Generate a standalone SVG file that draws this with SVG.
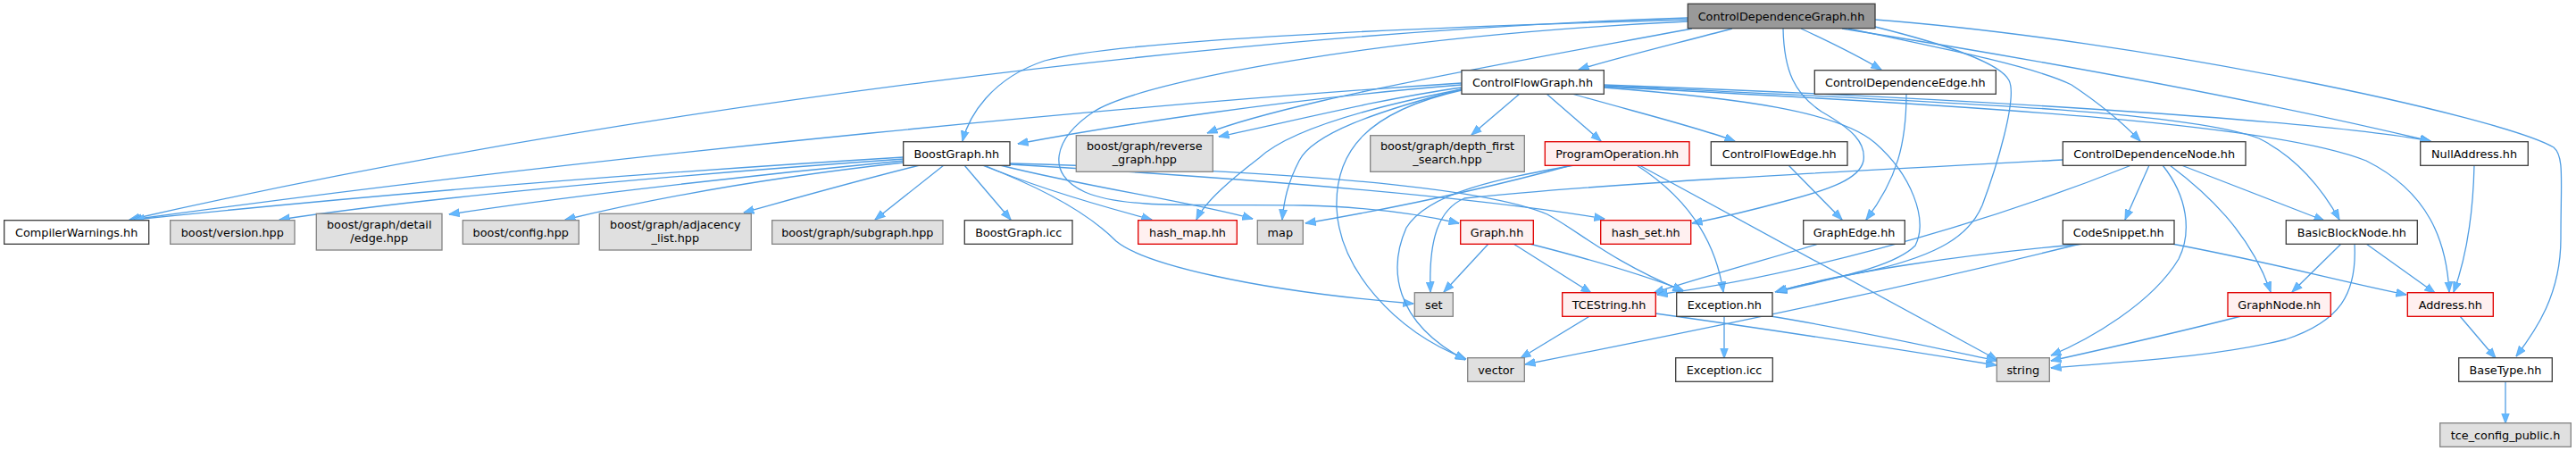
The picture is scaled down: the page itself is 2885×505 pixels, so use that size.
<svg xmlns="http://www.w3.org/2000/svg" width="2885" height="505" viewBox="0 0 2885 505">
<style>
.n rect{fill:#ffffff;stroke:#404040;stroke-width:1.33}
.g rect{fill:#e0e0e0;stroke:#858585;stroke-width:1.33}
.r rect{fill:#fff0f0;stroke:#e00000;stroke-width:1.33}
.root rect{fill:#999999;stroke:#404040;stroke-width:1.33}
text{font-family:"DejaVu Sans","Liberation Sans",sans-serif;font-size:12.8px;fill:#000000;text-anchor:middle}
#edges path{fill:none;stroke:#4f9de3;stroke-width:1.3;marker-end:url(#ah)}
</style>
<defs>
<marker id="ah" viewBox="0 0 12 10" refX="11.5" refY="5" markerWidth="12" markerHeight="10" markerUnits="userSpaceOnUse" orient="auto">
<path d="M0,0.5 L12,5 L0,9.5 z" fill="#63b8ff" stroke="#4f9de3" stroke-width="0.6"/>
</marker>
</defs>
<rect width="2885" height="505" fill="#ffffff"/>
<g id="edges">
<path d="M1890,20 C1400,35 700,120 145,246"/>
<path d="M1890,22 C1600,30 1250,45 1170,68 C1110,88 1085,130 1078,158"/>
<path d="M1890,24 C1550,40 1280,90 1225,125 C1180,155 1170,195 1215,215 C1260,235 1350,228 1460,230 C1540,232 1600,242 1634,250"/>
<path d="M1895,32 C1800,50 1600,85 1480,113 C1420,127 1380,138 1352,149"/>
<path d="M1940,32 C1880,48 1810,65 1768,78"/>
<path d="M2017,32 C2045,45 2080,62 2107,78"/>
<path d="M2070,32 C2180,55 2280,75 2320,95 C2350,115 2375,135 2397,158"/>
<path d="M1997,32 C1998,80 2010,105 2040,125 C2075,145 2090,160 2087,180 C2083,200 2050,212 2000,225 C1960,236 1925,244 1895,250"/>
<path d="M2100,30 C2180,50 2240,70 2250,90 C2260,110 2235,190 2220,230 C2205,265 2170,285 2100,302 C2050,312 2015,319 1988,327"/>
<path d="M2063,32 C2250,62 2500,105 2722,158"/>
<path d="M2100,22 C2400,45 2800,130 2860,165 C2872,175 2868,200 2868,267 C2868,330 2840,370 2818,399"/>
<path d="M1637,93 C1300,115 700,170 147,246"/>
<path d="M1637,95 C1450,110 1250,140 1140,161"/>
<path d="M1637,98 C1550,110 1450,135 1365,153"/>
<path d="M1637,100 C1560,115 1450,140 1410,177 C1380,200 1350,225 1340,246"/>
<path d="M1637,100 C1540,125 1470,150 1455,180 C1442,205 1438,225 1436,246"/>
<path d="M1637,101 C1530,125 1495,170 1497,233 C1500,300 1560,370 1642,402"/>
<path d="M1702,105 L1648,151"/>
<path d="M1732,105 L1793,158"/>
<path d="M1757,104 C1830,125 1900,142 1943,158"/>
<path d="M1796,98 C1950,110 2060,125 2100,160 C2140,195 2160,245 2145,275 C2120,300 2050,312 1990,327"/>
<path d="M1796,95 C2200,110 2600,135 2722,158"/>
<path d="M1796,96 C2200,115 2450,125 2530,155 C2570,175 2600,210 2620,246"/>
<path d="M1796,97 C2250,120 2550,140 2650,180 C2720,215 2740,270 2743,327"/>
<path d="M1012,176 C700,195 400,220 150,246"/>
<path d="M1012,178 C700,200 450,225 313,246"/>
<path d="M1012,180 C800,200 600,225 503,240"/>
<path d="M1012,182 C850,200 720,225 633,246"/>
<path d="M1030,185 C950,205 880,225 833,238"/>
<path d="M1057,185 L980,246"/>
<path d="M1080,185 L1132,246"/>
<path d="M1102,185 C1160,210 1230,230 1290,246"/>
<path d="M1120,185 C1220,210 1330,225 1403,245"/>
<path d="M1100,185 C1180,215 1225,245 1250,270 C1280,295 1400,325 1583,340"/>
<path d="M1131,183 C1400,190 1650,205 1733,240 C1770,260 1800,290 1885,326"/>
<path d="M1131,184 C1400,200 1650,220 1797,245"/>
<path d="M1760,185 C1650,215 1550,235 1462,250"/>
<path d="M1763,185 C1680,200 1600,215 1575,255 C1555,300 1560,360 1641,403"/>
<path d="M1833,185 C1880,215 1920,260 1930,327"/>
<path d="M1836,185 L2237,403"/>
<path d="M2135,105 C2135,160 2125,200 2090,246"/>
<path d="M2003,185 L2063,246"/>
<path d="M2037,273 C1980,290 1900,312 1852,328"/>
<path d="M2310,179 C2100,190 1800,205 1640,222 C1610,235 1600,270 1602,327"/>
<path d="M2387,185 C2200,260 2000,310 1856,330"/>
<path d="M2407,185 L2380,246"/>
<path d="M2430,185 C2470,215 2520,260 2543,327"/>
<path d="M2443,185 L2603,247"/>
<path d="M2422,185 C2450,220 2455,260 2440,290 C2410,340 2340,380 2297,398"/>
<path d="M2330,273 C2100,330 1900,370 1708,408"/>
<path d="M2335,273 C2200,285 2060,305 1990,327"/>
<path d="M2427,272 C2550,295 2620,315 2695,330"/>
<path d="M1667,273 L1617,327"/>
<path d="M1695,273 L1782,328"/>
<path d="M1713,273 C1780,290 1840,308 1885,325"/>
<path d="M1782,353 L1703,401"/>
<path d="M1854,351 C1990,370 2150,395 2236,409"/>
<path d="M1931,354 L1931,401"/>
<path d="M1983,354 C2080,370 2170,390 2236,404"/>
<path d="M2622,273 L2567,327"/>
<path d="M2650,273 L2727,328"/>
<path d="M2637,273 C2640,330 2620,360 2560,380 C2480,400 2380,405 2297,412"/>
<path d="M2771,185 C2770,230 2765,280 2748,327"/>
<path d="M2755,354 L2795,401"/>
<path d="M2806,427 L2806,474"/>
<path d="M2510,354 C2440,372 2360,390 2297,404"/>
</g>
<g id="n_cdg" class="root"><rect x="1890.3" y="4.3" width="209.7" height="27.4"/><text x="1995" y="22.5">ControlDependenceGraph.hh</text></g>
<g id="n_cfg" class="n"><rect x="1637" y="78.7" width="159.3" height="26.6"/><text x="1716.6" y="96.5">ControlFlowGraph.hh</text></g>
<g id="n_cde" class="n"><rect x="2032.3" y="78.7" width="203" height="26.6"/><text x="2133.8" y="96.5">ControlDependenceEdge.hh</text></g>
<g id="n_bg" class="n"><rect x="1011.7" y="158.7" width="119.3" height="26.6"/><text x="1071.3" y="176.5">BoostGraph.hh</text></g>
<g id="n_rg" class="g"><rect x="1205.3" y="151.7" width="153" height="40.6"/><text x="1281.8" y="168">boost/graph/reverse</text><text x="1281.8" y="183">_graph.hpp</text></g>
<g id="n_dfs" class="g"><rect x="1534.7" y="151.7" width="172.6" height="40.6"/><text x="1621" y="168">boost/graph/depth_first</text><text x="1621" y="183">_search.hpp</text></g>
<g id="n_po" class="r"><rect x="1730.3" y="158.7" width="161.7" height="26.6"/><text x="1811.2" y="176.5">ProgramOperation.hh</text></g>
<g id="n_cfe" class="n"><rect x="1916.3" y="158.7" width="152.7" height="26.6"/><text x="1992.7" y="176.5">ControlFlowEdge.hh</text></g>
<g id="n_cdn" class="n"><rect x="2310.3" y="158.7" width="204.7" height="26.6"/><text x="2412.7" y="176.5">ControlDependenceNode.hh</text></g>
<g id="n_na" class="n"><rect x="2710.7" y="158.7" width="120.6" height="26.6"/><text x="2771" y="176.5">NullAddress.hh</text></g>
<g id="n_cw" class="n"><rect x="4.7" y="246.7" width="162" height="26.6"/><text x="85.7" y="264.5">CompilerWarnings.hh</text></g>
<g id="n_bv" class="g"><rect x="190.7" y="246.7" width="139.3" height="26.6"/><text x="260.3" y="264.5">boost/version.hpp</text></g>
<g id="n_de" class="g"><rect x="354.3" y="239.3" width="140.7" height="40.7"/><text x="424.7" y="255.5">boost/graph/detail</text><text x="424.7" y="270.5">/edge.hpp</text></g>
<g id="n_bc" class="g"><rect x="518.3" y="246.7" width="130" height="26.6"/><text x="583.3" y="264.5">boost/config.hpp</text></g>
<g id="n_al" class="g"><rect x="671.3" y="239.3" width="170" height="40.7"/><text x="756.3" y="255.5">boost/graph/adjacency</text><text x="756.3" y="270.5">_list.hpp</text></g>
<g id="n_sg" class="g"><rect x="864.7" y="246.7" width="191.3" height="26.6"/><text x="960.3" y="264.5">boost/graph/subgraph.hpp</text></g>
<g id="n_bgi" class="n"><rect x="1080.3" y="246.7" width="120.7" height="26.6"/><text x="1140.7" y="264.5">BoostGraph.icc</text></g>
<g id="n_hm" class="r"><rect x="1274.7" y="246.7" width="110.6" height="26.6"/><text x="1330" y="264.5">hash_map.hh</text></g>
<g id="n_map" class="g"><rect x="1408.3" y="246.7" width="51" height="26.6"/><text x="1433.8" y="264.5">map</text></g>
<g id="n_graph" class="r"><rect x="1635.7" y="246.7" width="81.6" height="26.6"/><text x="1676.5" y="264.5">Graph.hh</text></g>
<g id="n_hs" class="r"><rect x="1792.7" y="246.7" width="101" height="26.6"/><text x="1843.2" y="264.5">hash_set.hh</text></g>
<g id="n_ge" class="n"><rect x="2019.7" y="246.7" width="113.6" height="26.6"/><text x="2076.5" y="264.5">GraphEdge.hh</text></g>
<g id="n_cs" class="n"><rect x="2310.3" y="246.7" width="124.7" height="26.6"/><text x="2372.7" y="264.5">CodeSnippet.hh</text></g>
<g id="n_bbn" class="n"><rect x="2560.3" y="246.7" width="147" height="26.6"/><text x="2633.8" y="264.5">BasicBlockNode.hh</text></g>
<g id="n_set" class="g"><rect x="1584.3" y="327.7" width="43" height="26.6"/><text x="1605.8" y="345.5">set</text></g>
<g id="n_ts" class="r"><rect x="1749.7" y="327.7" width="104.6" height="26.6"/><text x="1802" y="345.5">TCEString.hh</text></g>
<g id="n_ex" class="n"><rect x="1877.7" y="327.7" width="107.3" height="26.6"/><text x="1931.3" y="345.5">Exception.hh</text></g>
<g id="n_gn" class="r"><rect x="2495" y="327.7" width="115.3" height="26.6"/><text x="2552.7" y="345.5">GraphNode.hh</text></g>
<g id="n_ad" class="r"><rect x="2696.3" y="327.7" width="96" height="26.6"/><text x="2744.3" y="345.5">Address.hh</text></g>
<g id="n_vec" class="g"><rect x="1643.7" y="400.7" width="63.6" height="26.6"/><text x="1675.5" y="418.5">vector</text></g>
<g id="n_ei" class="n"><rect x="1876.7" y="400.7" width="108.6" height="26.6"/><text x="1931" y="418.5">Exception.icc</text></g>
<g id="n_str" class="g"><rect x="2236.3" y="400.7" width="59" height="26.6"/><text x="2265.8" y="418.5">string</text></g>
<g id="n_bt" class="n"><rect x="2753.7" y="400.7" width="104.6" height="26.6"/><text x="2806" y="418.5">BaseType.hh</text></g>
<g id="n_tc" class="g"><rect x="2732.7" y="473.7" width="146.6" height="26.6"/><text x="2806" y="491.5">tce_config_public.h</text></g>
</svg>
